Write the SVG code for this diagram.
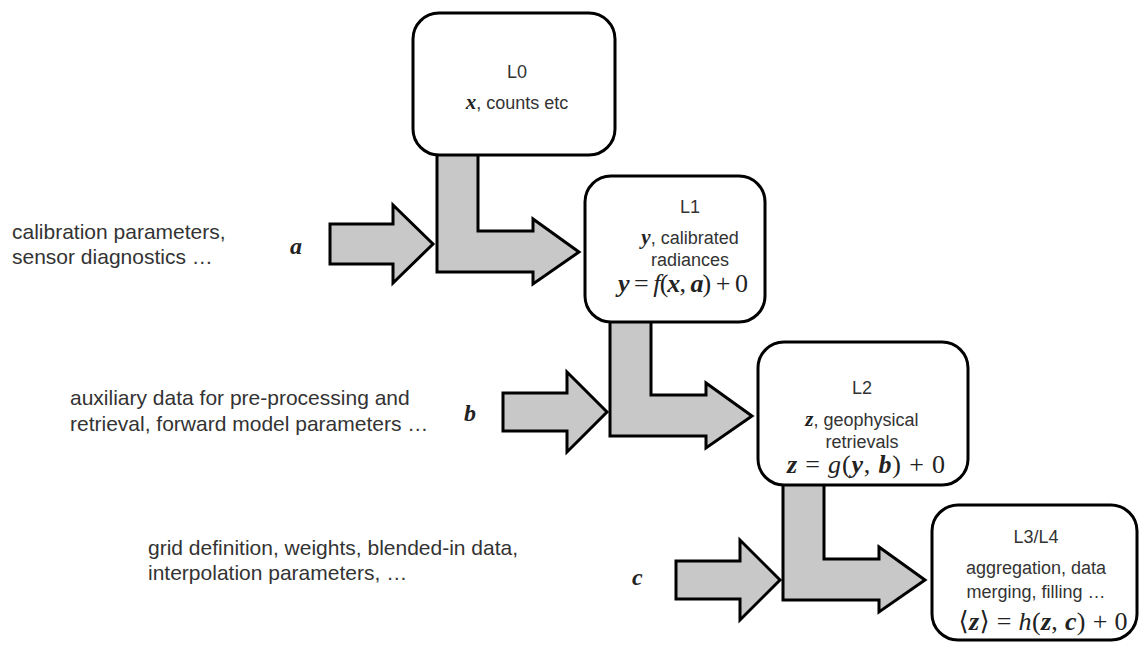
<svg xmlns="http://www.w3.org/2000/svg" width="1141" height="650" viewBox="0 0 1141 650">
<style>
.box{fill:#fff;stroke:#000;stroke-width:3}
.arr{fill:#c8c8c8;stroke:#000;stroke-width:3;stroke-linejoin:miter}
.side{font-family:"Liberation Sans",Arial,sans-serif;font-size:21px;fill:#333}
.lbl{font-family:"Liberation Sans",Arial,sans-serif;font-size:18px;fill:#333;text-anchor:middle}
.var{font-family:"Liberation Serif","DejaVu Serif",serif;font-weight:bold;font-style:italic;fill:#222}
.eq{font-family:"Liberation Serif","DejaVu Serif",serif;font-size:26px;fill:#222;text-anchor:middle}
.bi{font-weight:bold;font-style:italic}
.it{font-style:italic}
</style>
<rect width="1141" height="650" fill="#fff"/>
<g id="connectors">
<path class="arr" d="M437,150 L478,150 L478,231 L533,231 L533,219 L579,252 L533,284 L533,272 L437,272 Z"/>
<path class="arr" d="M610,317 L651,317 L651,395 L706,395 L706,383 L752,416 L706,448 L706,436 L610,436 Z"/>
<path class="arr" d="M783,480 L824,480 L824,559 L879,559 L879,547 L925,580 L879,612 L879,600 L783,600 Z"/>
<path class="arr" d="M330,224 L393,224 L393,205 L433,244 L393,283 L393,264 L330,264 Z"/>
<path class="arr" d="M503,393 L567,393 L567,372 L607,412 L567,452 L567,431 L503,431 Z"/>
<path class="arr" d="M676,561 L740,561 L740,540 L780,580 L740,620 L740,599 L676,599 Z"/>
</g>
<g id="L0">
<rect class="box" x="413" y="13" width="202" height="142" rx="26"/>
<text class="lbl" x="517" y="78">L0</text>
<text class="lbl" x="517" y="109"><tspan class="var" font-size="21">x</tspan>, counts etc</text>
</g>
<g id="L1">
<rect class="box" x="585" y="176" width="180" height="146" rx="26"/>
<text class="lbl" x="690" y="213">L1</text>
<text class="lbl" x="690" y="244"><tspan class="var" font-size="21">y</tspan>, calibrated</text>
<text class="lbl" x="690" y="266">radiances</text>
<text class="eq" x="683" y="292" textLength="130" lengthAdjust="spacing"><tspan class="bi">y</tspan> = <tspan class="it">f</tspan>(<tspan class="bi">x</tspan>, <tspan class="bi">a</tspan>) + 0</text>
</g>
<g id="L2">
<rect class="box" x="758" y="342" width="210" height="143" rx="26"/>
<text class="lbl" x="862" y="394">L2</text>
<text class="lbl" x="862" y="426"><tspan class="var" font-size="21">z</tspan>, geophysical</text>
<text class="lbl" x="862" y="448">retrievals</text>
<text class="eq" x="866" y="473" textLength="158" lengthAdjust="spacing"><tspan class="bi">z</tspan> = <tspan class="it">g</tspan>(<tspan class="bi">y</tspan>, <tspan class="bi">b</tspan>) + 0</text>
</g>
<g id="L3L4">
<rect class="box" x="932" y="505" width="205" height="135" rx="26"/>
<text class="lbl" x="1036" y="543">L3/L4</text>
<text class="lbl" x="1036" y="574">aggregation, data</text>
<text class="lbl" x="1036" y="598">merging, filling …</text>
<text class="eq" x="1043" y="630" textLength="169" lengthAdjust="spacing">⟨<tspan class="bi">z</tspan>⟩ = <tspan class="it">h</tspan>(<tspan class="bi">z</tspan>, <tspan class="bi">c</tspan>) + 0</text>
</g>
<g id="inputs">
<text class="side" x="12" y="239">calibration parameters,</text>
<text class="side" x="12" y="264">sensor diagnostics …</text>
<text class="var" x="290" y="254" font-size="24">a</text>
<text class="side" x="70" y="405">auxiliary data for pre-processing and</text>
<text class="side" x="70" y="431">retrieval, forward model parameters …</text>
<text class="var" x="464" y="421" font-size="24">b</text>
<text class="side" x="148" y="555">grid definition, weights, blended-in data,</text>
<text class="side" x="148" y="580">interpolation parameters, …</text>
<text class="var" x="632" y="585" font-size="24">c</text>
</g>
</svg>
